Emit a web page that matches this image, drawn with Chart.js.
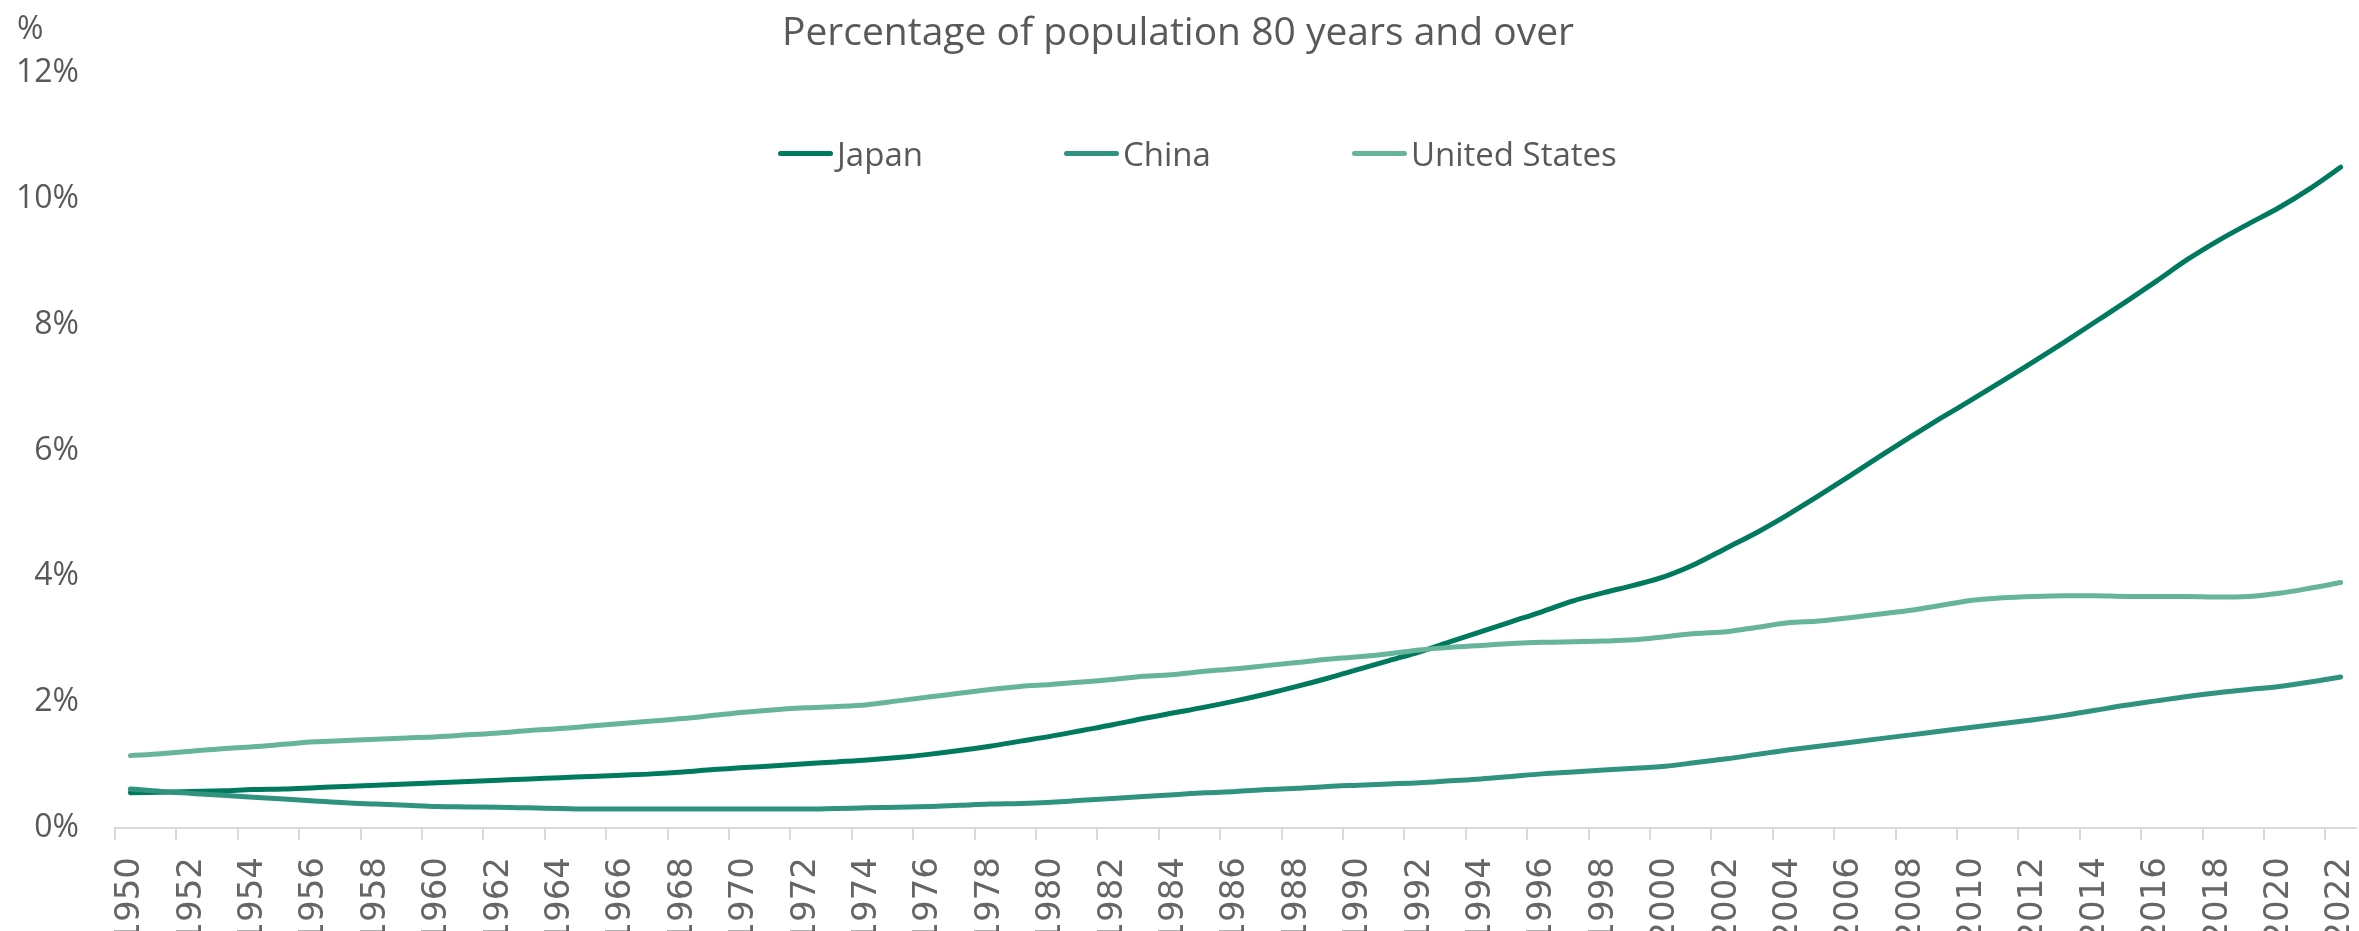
<!DOCTYPE html>
<html>
<head>
<meta charset="utf-8">
<title>Percentage of population 80 years and over</title>
<script src="https://cdn.jsdelivr.net/npm/chart.js@4.4.0/dist/chart.umd.min.js"></script>
<style>
    html, body { margin: 0; padding: 0; background: #fff; overflow: hidden; }
    #wrap { position: relative; width: 2359px; height: 960px; }
    #unit {
        position: absolute; left: 17px; top: 5px;
        font: 32px 'Open Sans', sans-serif; color: #595959;
    }
    #legend {
        position: absolute; left: 778px; top: 131px;
        display: flex; gap: 141px;
        font: 33px 'Open Sans', sans-serif; color: #595959;
    }
    .item { display: flex; align-items: center; }
    .swatch { width: 55px; height: 5px; border-radius: 3px; margin-right: 4px; }
</style>
</head>
<body>
<div id="wrap">
    <canvas id="chart"></canvas>
    <div id="unit">%</div>
    <div id="legend"></div>
</div>
<script>
const titleText = 'Percentage of population 80 years and over';

const years = [
    '1950','1951','1952','1953','1954','1955','1956','1957','1958','1959',
    '1960','1961','1962','1963','1964','1965','1966','1967','1968','1969',
    '1970','1971','1972','1973','1974','1975','1976','1977','1978','1979',
    '1980','1981','1982','1983','1984','1985','1986','1987','1988','1989',
    '1990','1991','1992','1993','1994','1995','1996','1997','1998','1999',
    '2000','2001','2002','2003','2004','2005','2006','2007','2008','2009',
    '2010','2011','2012','2013','2014','2015','2016','2017','2018','2019',
    '2020','2021','2022'
];

const seriesNames = ['Japan', 'China', 'United States'];
const seriesColors = ['#007A5E', '#2F937F', '#66B49A'];

const japan = [
    0.56, 0.57, 0.58, 0.59, 0.61, 0.62, 0.64, 0.66, 0.68, 0.70,
    0.72, 0.74, 0.76, 0.78, 0.80, 0.82, 0.84, 0.86, 0.89, 0.93,
    0.96, 0.99, 1.02, 1.05, 1.08, 1.12, 1.17, 1.23, 1.30, 1.38,
    1.46, 1.55, 1.64, 1.74, 1.83, 1.92, 2.02, 2.13, 2.25, 2.38,
    2.52, 2.66, 2.80, 2.96, 3.12, 3.28, 3.44, 3.61, 3.74, 3.86,
    4.00, 4.20, 4.45, 4.70, 4.98, 5.28, 5.59, 5.91, 6.22, 6.52,
    6.81, 7.11, 7.41, 7.72, 8.04, 8.36, 8.69, 9.03, 9.33, 9.60,
    9.86, 10.16, 10.50
];

const china = [
    0.62, 0.58, 0.55, 0.52, 0.49, 0.46, 0.43, 0.40, 0.38, 0.36,
    0.34, 0.335, 0.33, 0.32, 0.31, 0.30, 0.30, 0.30, 0.30, 0.30,
    0.30, 0.30, 0.30, 0.31, 0.32, 0.33, 0.34, 0.36, 0.38, 0.39,
    0.41, 0.44, 0.47, 0.50, 0.53, 0.56, 0.58, 0.61, 0.63, 0.66,
    0.68, 0.70, 0.72, 0.75, 0.78, 0.82, 0.86, 0.89, 0.92, 0.95,
    0.98, 1.04, 1.10, 1.17, 1.24, 1.30, 1.36, 1.42, 1.48, 1.54,
    1.60, 1.66, 1.72, 1.79, 1.87, 1.95, 2.02, 2.09, 2.15, 2.20,
    2.25, 2.32, 2.40
];

const unitedStates = [
    1.15, 1.18, 1.22, 1.26, 1.29, 1.33, 1.37, 1.39, 1.41, 1.43,
    1.45, 1.48, 1.51, 1.55, 1.58, 1.62, 1.66, 1.70, 1.74, 1.79,
    1.84, 1.88, 1.91, 1.93, 1.96, 2.02, 2.08, 2.14, 2.20, 2.25,
    2.28, 2.32, 2.36, 2.41, 2.44, 2.49, 2.53, 2.58, 2.63, 2.68,
    2.72, 2.77, 2.83, 2.87, 2.90, 2.93, 2.95, 2.96, 2.97, 2.99,
    3.04, 3.09, 3.12, 3.19, 3.26, 3.29, 3.34, 3.40, 3.46, 3.54,
    3.62, 3.66, 3.68, 3.69, 3.69, 3.68, 3.68, 3.68, 3.67, 3.68,
    3.73, 3.81, 3.90
];

const yTicks = [0, 2, 4, 6, 8, 10, 12];

const seriesData = [japan, china, unitedStates];

// legend sits inside the plot, as in the original
const legendDiv = document.getElementById('legend');
seriesNames.forEach((name, i) => {
    legendDiv.innerHTML += `<div class="item"><span class="swatch" style="background:${seriesColors[i]}"></span>${name}</div>`;
});

const datasets = seriesNames.map((name, i) => ({
    label: name,
    data: seriesData[i],
    borderColor: seriesColors[i],
    backgroundColor: seriesColors[i],
    borderWidth: 5,
    borderCapStyle: 'round',
    borderJoinStyle: 'round',
    pointRadius: 0,
    cubicInterpolationMode: 'monotone',
    fill: false,
    order: seriesNames.length - i
}));

new Chart(document.getElementById('chart'), {
    type: 'line',
    data: { labels: years, datasets: datasets },
    options: {
        responsive: true,
        maintainAspectRatio: false,
        animation: false,
        layout: { padding: { left: 0, right: 3, top: 0, bottom: 0 } },
        plugins: {
            legend: { display: false },
            tooltip: { enabled: false },
            title: {
                display: true,
                text: titleText,
                color: '#595959',
                font: { family: 'Open Sans', size: 39, weight: 'normal' },
                padding: { top: 10, bottom: 16 }
            }
        },
        scales: {
            x: {
                offset: true,
                grid: {
                    offset: true,
                    drawOnChartArea: false,
                    drawTicks: true,
                    tickLength: 12,
                    lineWidth: 2,
                    color: c => (c.index % 2 === 0 ? '#d9d9d9' : 'rgba(0,0,0,0)')
                },
                border: { display: true, color: '#d9d9d9', width: 2 },
                ticks: {
                    autoSkip: false,
                    minRotation: 90,
                    maxRotation: 90,
                    padding: 17,
                    color: '#666666',
                    font: { family: 'DejaVu Sans', size: 34 },
                    callback: function(value, index) {
                        return index % 2 === 0 ? this.getLabelForValue(value) : '';
                    }
                },
                afterFit: scale => {
                    scale.height = 132;
                    scale.paddingLeft = 0;
                    scale.paddingRight = 0;
                }
            },
            y: {
                min: yTicks[0],
                max: yTicks[yTicks.length - 1],
                afterBuildTicks: scale => {
                    scale.ticks = yTicks.map(v => ({ value: v }));
                },
                grid: { display: false, drawTicks: false },
                border: { display: false },
                ticks: {
                    padding: 36,
                    color: '#595959',
                    font: { family: 'Open Sans', size: 32 },
                    callback: v => v + '%'
                },
                afterFit: scale => {
                    scale.width = 115;
                }
            }
        }
    }
});
</script>
</body>
</html>
